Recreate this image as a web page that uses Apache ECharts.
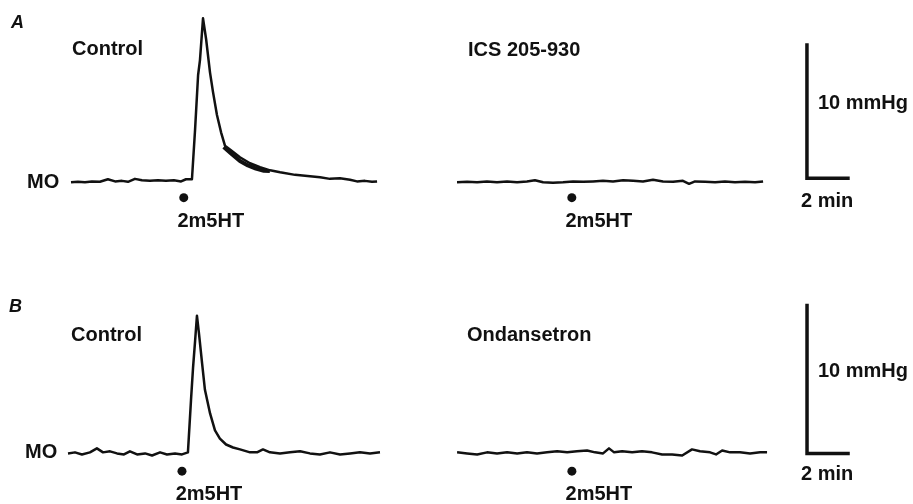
<!DOCTYPE html>
<html>
<head>
<meta charset="utf-8">
<script src="https://cdn.jsdelivr.net/npm/echarts@6/dist/echarts.min.js"></script>
<style>
  html, body { margin: 0; padding: 0; background: #fff; }
  #chart { width: 913px; height: 504px; }
</style>
</head>
<body>
<div id="chart"></div>
<script>
// time in min from start of each trace, pressure in mmHg above baseline (MO)
const aCtrlTime = [0, 0.34, 0.68, 1.02, 1.41, 1.8, 2.15, 2.49, 2.78, 3.12, 3.46, 3.85, 4.24, 4.63, 5.02, 5.37, 5.61, 5.9,
  6.05, 6.2, 6.29, 6.44, 6.59, 6.78, 6.93, 7.12, 7.32, 7.51, 7.85, 8.24, 8.73, 9.22, 9.71, 10.2, 10.93, 11.66, 12.15,
  12.63, 13.12, 13.61, 13.95, 14.34, 14.68, 14.93];
const aCtrlMmHg = [-0.15, -0.11, -0.15, -0.08, -0.11, 0.08, -0.08, -0.04, -0.11, 0.11, 0, -0.04, 0, -0.04, 0, -0.08, 0.08, 0.08,
  3.75, 7.9, 9.0, 12.15, 10.6, 8.1, 6.6, 4.9, 3.6, 2.6, 2.2, 1.73, 1.28, 0.98, 0.75, 0.6,
  0.41, 0.3, 0.23, 0.11, 0.15, 0.04, -0.08, -0.04, -0.11, -0.08];
// lower edge of the noisy band on the decay of A control
const aBandTime = [7.45, 7.85, 8.24, 8.63, 9.02, 9.41, 9.7];
const aBandMmHg = [2.5, 1.95, 1.45, 1.12, 0.88, 0.72, 0.7];

const aIcsTime = [0, 0.49, 0.98, 1.46, 1.95, 2.44, 2.93, 3.41, 3.8, 4.2, 4.68, 5.17, 5.66, 6.15, 6.63, 7.12, 7.61, 8.1,
  8.59, 9.07, 9.56, 10.05, 10.54, 11.02, 11.32, 11.61, 12.1, 12.59, 13.07, 13.56, 14.05, 14.54, 14.93];
const aIcsMmHg = [-0.15, -0.11, -0.15, -0.08, -0.15, -0.08, -0.15, -0.08, 0, -0.15, -0.19, -0.15, -0.08, -0.11, -0.08, -0.04,
  -0.08, 0, -0.04, -0.08, 0.04, -0.08, -0.11, -0.04, -0.26, -0.08, -0.11, -0.15, -0.08, -0.15, -0.11, -0.15, -0.08];

const bCtrlTime = [0, 0.34, 0.68, 1.07, 1.41, 1.71, 2.05, 2.39, 2.73, 3.02, 3.37, 3.76, 4.1, 4.49, 4.83, 5.22, 5.56, 5.85,
  6.0, 6.1, 6.2, 6.29, 6.39, 6.54, 6.68, 6.93, 7.17, 7.41, 7.71, 8.05, 8.39, 8.88, 9.22, 9.51, 9.85, 10.34, 10.83,
  11.32, 11.8, 12.29, 12.78, 13.27, 13.76, 14.24, 14.73, 15.22];
const bCtrlMmHg = [0, 0.07, -0.07, 0.07, 0.34, 0.07, 0.14, 0, -0.07, 0.14, -0.07, 0, -0.14, 0.07, -0.07, 0, -0.07, 0.07,
  3.6, 5.8, 7.6, 9.3, 8.1, 6.1, 4.3, 2.7, 1.55, 1.0, 0.6, 0.4, 0.27, 0.07, 0.07, 0.27, 0.07, 0, 0.07,
  0.14, 0, -0.07, 0.07, -0.07, 0, 0.07, 0, 0.07];

const bOndTime = [0, 0.49, 0.98, 1.46, 1.95, 2.44, 2.93, 3.41, 3.9, 4.39, 4.88, 5.37, 5.85, 6.34, 6.73, 7.12, 7.41, 7.66,
  8.05, 8.54, 9.02, 9.51, 10.0, 10.49, 10.98, 11.46, 11.85, 12.34, 12.63, 12.93, 13.32, 13.8, 14.29, 14.78, 15.12];
const bOndMmHg = [0.07, 0, -0.07, 0.07, 0, 0.07, 0, 0.07, 0, 0.07, 0.14, 0.07, 0.14, 0.2, 0.07, 0, 0.34, 0.07,
  0.14, 0.07, 0.14, 0.07, -0.07, -0.07, -0.14, 0.27, 0.14, 0.07, -0.07, 0.2, 0.07, 0.07, 0, 0.07, 0.07];

// 2m5HT given at (min from trace start)
const doseTime = { aCtrl: 5.5, aIcs: 5.6, bCtrl: 5.56, bOnd: 5.6 };
const doseMark = { a: -1.3, b: -1.2 };

// scale bars
const barMin = 2;
const barMmHg = 10;

// where each trace sits on its row's time axis
const rightOffsetA = 18.83;
const rightOffsetB = 18.98;
const barOffsetA = 35.9;
const barOffsetB = 36.05;

const ink = '#111';
const textFont = 'bold 20px "Liberation Sans", Arial, sans-serif';

const zip = (t, v, off) => t.map((x, i) => [x + off, v[i]]);

const traceSeries = (data, idx, width) => ({
  type: 'line',
  xAxisIndex: idx,
  yAxisIndex: idx,
  data: data,
  showSymbol: false,
  smooth: false,
  clip: false,
  lineStyle: { color: ink, width: width || 2.5, join: 'round' },
  silent: true,
});

const doseSeries = (data, idx) => ({
  type: 'scatter',
  xAxisIndex: idx,
  yAxisIndex: idx,
  data: data,
  symbol: 'circle',
  symbolSize: 9,
  itemStyle: { color: ink, opacity: 1 },
  label: {
    show: true,
    formatter: '2m5HT',
    position: 'bottom',
    distance: 9,
    offset: [27, 0],
    color: ink,
    opacity: 1,
    fontSize: 20,
    fontWeight: 'bold',
    fontFamily: '"Liberation Sans", Arial, sans-serif',
  },
  silent: true,
});

const barSeries = (x0, y0, idx) => ({
  type: 'line',
  xAxisIndex: idx,
  yAxisIndex: idx,
  data: [[x0, y0 + barMmHg], [x0, y0], [x0 + barMin, y0]],
  showSymbol: false,
  clip: false,
  lineStyle: { color: ink, width: 3.5, cap: 'square', join: 'miter' },
  silent: true,
});

const txt = (text, x, y, font) => ({
  type: 'text',
  x: x,
  y: y,
  style: {
    text: text,
    font: font || textFont,
    fill: ink,
    verticalAlign: 'middle',
    textVerticalAlign: 'middle',
  },
});

const chart = echarts.init(document.getElementById('chart'), null, { renderer: 'canvas' });

chart.setOption({
  backgroundColor: '#fff',
  animation: false,
  grid: [
    { left: 71, top: 7, width: 820, height: 200 },
    { left: 68, top: 261, width: 820, height: 222 },
  ],
  xAxis: [
    { type: 'value', gridIndex: 0, min: 0, max: 40, show: false },
    { type: 'value', gridIndex: 1, min: 0, max: 40, show: false },
  ],
  yAxis: [
    { type: 'value', gridIndex: 0, min: -2, max: 13, show: false },
    { type: 'value', gridIndex: 1, min: -2, max: 13, show: false },
  ],
  series: [
    traceSeries(zip(aCtrlTime, aCtrlMmHg, 0), 0),
    traceSeries(zip(aBandTime, aBandMmHg, 0), 0, 4),
    traceSeries(zip(aIcsTime, aIcsMmHg, rightOffsetA), 0),
    traceSeries(zip(bCtrlTime, bCtrlMmHg, 0), 1),
    traceSeries(zip(bOndTime, bOndMmHg, rightOffsetB), 1),
    doseSeries([[doseTime.aCtrl, doseMark.a], [doseTime.aIcs + rightOffsetA, doseMark.a]], 0),
    doseSeries([[doseTime.bCtrl, doseMark.b], [doseTime.bOnd + rightOffsetB, doseMark.b]], 1),
    barSeries(barOffsetA, 0.15, 0),
    barSeries(barOffsetB, 0, 1),
  ],
  graphic: [
    txt('A', 11, 23, 'italic bold 18px "Liberation Sans", Arial, sans-serif'),
    txt('Control', 72, 49),
    txt('ICS 205-930', 468, 50),
    txt('MO', 27, 182),
    txt('10 mmHg', 818, 103),
    txt('2 min', 801, 201),
    txt('B', 9, 307, 'italic bold 18px "Liberation Sans", Arial, sans-serif'),
    txt('Control', 71, 335),
    txt('Ondansetron', 467, 335),
    txt('MO', 25, 452),
    txt('10 mmHg', 818, 371),
    txt('2 min', 801, 474),
  ],
});
</script>
</body>
</html>
